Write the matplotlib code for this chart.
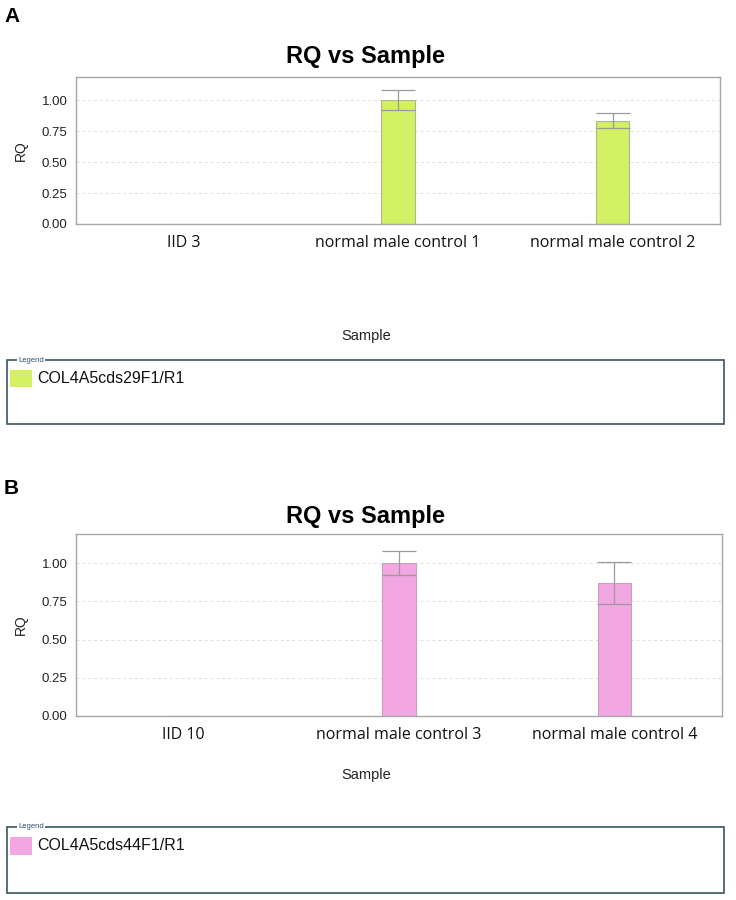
import matplotlib
matplotlib.use("Agg")
import matplotlib.pyplot as plt
from matplotlib.patches import Rectangle

# ---- data ----
samples_a = ["IID 3", "normal male control 1", "normal male control 2"]
rq_a = [0.0, 1.00, 0.83]
err_lo_a = [0.0, 0.075, 0.05]
err_hi_a = [0.0, 0.085, 0.07]
series_a = "COL4A5cds29F1/R1"

samples_b = ["IID 10", "normal male control 3", "normal male control 4"]
rq_b = [0.0, 1.00, 0.87]
err_lo_b = [0.0, 0.08, 0.135]
err_hi_b = [0.0, 0.08, 0.135]
series_b = "COL4A5cds44F1/R1"

yticks = [0.00, 0.25, 0.50, 0.75, 1.00]

W, H = 736, 900
fig = plt.figure(figsize=(W / 100, H / 100), dpi=100)
plt.rcParams['font.family'] = ['Liberation Sans', 'DejaVu Sans']

def fx(px):
    return px / W

def fy(py):
    return 1 - py / H

def panel(letter, letter_y, title_y, ax_box, samples, rq, lo, hi, color, edge,
          xlab_y, sample_y, leg_box, leg_sq, series):
    fig.text(fx(4), fy(letter_y), letter, fontsize=15, fontweight='bold', va='center', ha='left')
    fig.text(fx(366), fy(title_y), "RQ vs Sample", fontsize=17, fontweight='bold', va='center', ha='center')
    l, t, r, b = ax_box
    ax = fig.add_axes([fx(l), fy(b), fx(r - l), (b - t) / H])
    x = list(range(len(samples)))
    ax.bar(x, rq, width=0.155, color=color, edgecolor=edge, linewidth=0.8, zorder=2)
    for xi, v, el, eh in zip(x, rq, lo, hi):
        if v > 0:
            ax.errorbar([xi], [v], yerr=[[el], [eh]], fmt='none', ecolor='#9a9a9a',
                        elinewidth=0.9, capsize=12, capthick=0.9, zorder=3)
    ax.set_xlim(-0.5, 2.5)
    ax.set_ylim(0, 1.19)
    ax.set_yticks(yticks)
    ax.set_yticklabels([f"{v:.2f}" for v in yticks], fontsize=9.5, color='#222222')
    ax.yaxis.grid(True, linestyle=(0, (3, 3)), color='#dddddd', linewidth=0.7, zorder=0)
    ax.set_axisbelow(True)
    ax.set_xticks(x)
    ax.set_xticklabels([])
    ax.tick_params(axis='x', length=0)
    ax.tick_params(axis='y', length=0, pad=6)
    for s in ax.spines.values():
        s.set_color('#a6a6a6')
        s.set_linewidth(1.0)
    ax.set_ylabel("RQ", fontsize=10, color='#222222', labelpad=10)
    # category labels
    for xi, s in zip(x, samples):
        xd = ax.transData.transform((xi, 0))[0]
        xp = xd / fig.dpi * 100
        fig.text(fx(xp), fy(xlab_y), s, fontsize=11.5, ha='center', va='center',
                 family=['Open Sans', 'DejaVu Sans'], color='#111111')
    fig.text(fx(366), fy(sample_y), "Sample", fontsize=10.5, ha='center', va='center', color='#222222')
    # legend box
    L, T, R, B = leg_box
    fig.patches.append(Rectangle((fx(L), fy(B)), fx(R - L), (B - T) / H, transform=fig.transFigure,
                                 fill=False, edgecolor='#3b5560', linewidth=1.2))
    fig.text(fx(18), fy(T), "Legend", fontsize=5.5, ha='left', va='center', color='#2a4f7a',
             bbox=dict(facecolor='white', edgecolor='none', pad=1.0))
    sx0, sy0, sx1, sy1 = leg_sq
    fig.patches.append(Rectangle((fx(sx0), fy(sy1)), fx(sx1 - sx0), (sy1 - sy0) / H,
                                 transform=fig.transFigure, facecolor=color, edgecolor='none'))
    fig.text(fx(37), fy((sy0 + sy1) / 2), series, fontsize=11.5, ha='left', va='center', color='#111111')

panel("A", 16, 57, (76, 77, 720, 224), samples_a, rq_a, err_lo_a, err_hi_a,
      '#d3f064', '#a8b888', 243, 336, (7, 360, 724, 424), (10, 370, 32, 387), series_a)
panel("B", 488, 516, (76, 534, 722, 716), samples_b, rq_b, err_lo_b, err_hi_b,
      '#f2a6e2', '#c8a0c0', 735, 775, (7, 827, 724, 893), (10, 837, 32, 855), series_b)

fig.savefig("out.png", dpi=100, facecolor='white')
